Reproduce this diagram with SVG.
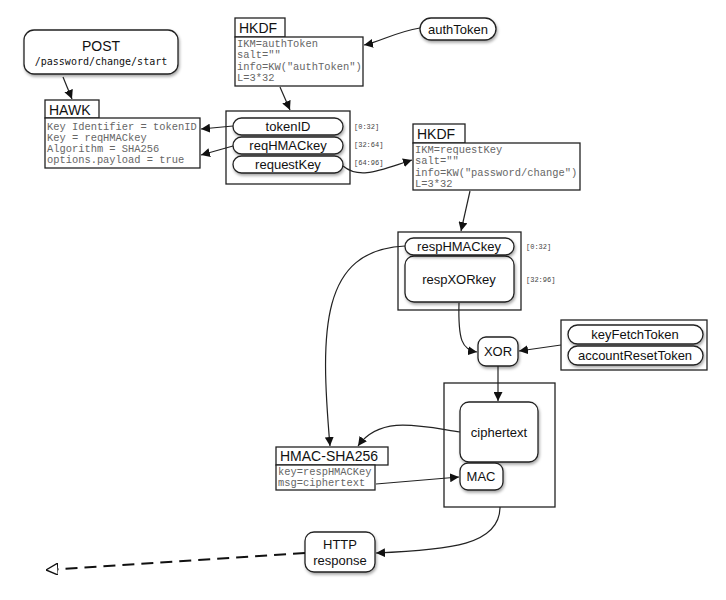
<svg xmlns="http://www.w3.org/2000/svg" width="726" height="600" viewBox="0 0 726 600">
<style>
.b{fill:#fff;stroke:#222;stroke-width:1.3}
.c{fill:none;stroke:#222;stroke-width:1.2}
.t{font-family:"Liberation Sans",Arial,sans-serif;font-size:13px;fill:#111;text-anchor:middle}
.h{font-family:"Liberation Sans",Arial,sans-serif;font-size:14px;fill:#111}
.m{font-family:"Liberation Mono","Courier New",monospace;font-size:10.4px;fill:#666}
.s{font-family:"Liberation Mono","Courier New",monospace;font-size:7px;fill:#444}
.e{fill:none;stroke:#111;stroke-width:2}
</style>
<defs>
<marker id="a" viewBox="0 0 10 10" refX="10" refY="5" markerWidth="9" markerHeight="9" markerUnits="userSpaceOnUse" orient="auto"><path d="M0,0L10,5L0,10z" fill="#111"/></marker>
<marker id="o" viewBox="0 0 10 10" refX="10" refY="5" markerWidth="12" markerHeight="12" markerUnits="userSpaceOnUse" orient="auto-start-reverse"><path d="M0,0L10,5L0,10z" fill="#fff" stroke="#111" stroke-width="1.2"/></marker>
<filter id="sh" x="-10%" y="-10%" width="130%" height="140%"><feDropShadow dx="1" dy="2" stdDeviation="1.5" flood-opacity="0.35"/></filter>
</defs>
<g id="post"><rect class="b" filter="url(#sh)" x="24" y="30" width="154" height="44" rx="10"/><text class="t" x="101" y="51" style="font-size:14px">POST</text><text class="t" x="101" y="65" style="font-family:'DejaVu Sans Mono',monospace;font-size:10px">/password/change/start</text></g>
<g id="hawk"><rect class="b" x="45" y="100" width="54" height="18"/><text class="h" x="49" y="115">HAWK</text><rect class="b" x="45" y="118" width="155" height="50"/><text class="m" x="47" y="130">Key Identifier = tokenID</text><text class="m" x="47" y="141">Key = reqHMACkey</text><text class="m" x="47" y="152">Algorithm = SHA256</text><text class="m" x="47" y="163">options.payload = true</text></g>
<g id="hkdf1"><rect class="b" x="235" y="18" width="50" height="19"/><text class="h" x="239" y="33">HKDF</text><rect class="b" x="235" y="37" width="128" height="49"/><text class="m" x="237" y="47">IKM=authToken</text><text class="m" x="237" y="58">salt=""</text><text class="m" x="237" y="70">info=KW("authToken")</text><text class="m" x="237" y="81">L=3*32</text></g>
<g id="authToken"><rect class="b" filter="url(#sh)" x="420" y="18" width="76" height="22" rx="11"/><text class="t" x="458" y="34">authToken</text></g>
<g id="keys1"><rect class="b" x="226" y="111" width="124" height="73"/><rect class="b" filter="url(#sh)" x="233" y="118" width="110" height="17" rx="8.5"/><text class="t" x="288" y="131">tokenID</text><rect class="b" filter="url(#sh)" x="233" y="137" width="110" height="17" rx="8.5"/><text class="t" x="288" y="150">reqHMACkey</text><rect class="b" filter="url(#sh)" x="233" y="156" width="110" height="17" rx="8.5"/><text class="t" x="288" y="169">requestKey</text><text class="s" x="354" y="129">[0:32]</text><text class="s" x="354" y="147">[32:64]</text><text class="s" x="354" y="165">[64:96]</text></g>
<g id="hkdf2"><rect class="b" x="413" y="124" width="52" height="19"/><text class="h" x="417" y="139">HKDF</text><rect class="b" x="413" y="143" width="167" height="47"/><text class="m" x="415" y="153">IKM=requestKey</text><text class="m" x="415" y="164">salt=""</text><text class="m" x="415" y="176">info=KW("password/change")</text><text class="m" x="415" y="187">L=3*32</text></g>
<g id="keys2"><rect class="b" x="398" y="232" width="123" height="78"/><rect class="b" filter="url(#sh)" x="405" y="256" width="109" height="46" rx="9"/><text class="t" x="459" y="284">respXORkey</text><rect class="b" filter="url(#sh)" x="405" y="238" width="109" height="17" rx="8.5"/><text class="t" x="459" y="251">respHMACkey</text><text class="s" x="526" y="249">[0:32]</text><text class="s" x="526" y="282">[32:96]</text></g>
<g id="xor"><rect class="b" filter="url(#sh)" x="478" y="337" width="40" height="29" rx="8"/><text class="t" x="498" y="356">XOR</text></g>
<g id="tokens"><rect class="b" x="561" y="320" width="146" height="50"/><rect class="b" filter="url(#sh)" x="568" y="325" width="135" height="19" rx="9.5"/><text class="t" x="635" y="339">keyFetchToken</text><rect class="b" filter="url(#sh)" x="568" y="346" width="135" height="19" rx="9.5"/><text class="t" x="635" y="360">accountResetToken</text></g>
<g id="out"><rect class="b" x="444" y="383" width="111" height="124"/><rect class="b" filter="url(#sh)" x="460" y="402" width="78" height="60" rx="9"/><text class="t" x="499" y="437">ciphertext</text><rect class="b" filter="url(#sh)" x="460" y="463" width="43" height="27" rx="8"/><text class="t" x="481" y="481">MAC</text></g>
<g id="hmac"><rect class="b" x="276" y="447" width="112" height="18"/><text class="h" x="280" y="461">HMAC-SHA256</text><rect class="b" x="276" y="465" width="99" height="25"/><text class="m" x="278" y="475">key=respHMACKey</text><text class="m" x="278" y="486">msg=ciphertext</text></g>
<g id="http"><rect class="b" filter="url(#sh)" x="305" y="532" width="70" height="40" rx="9"/><text class="t" x="340" y="549">HTTP</text><text class="t" x="340" y="565">response</text></g>
<g id="connectors">
<path class="c" d="M63,77 L72,99" marker-end="url(#a)"/>
<path class="c" d="M420,28 C395,32 380,42 364,45" marker-end="url(#a)"/>
<path class="c" d="M280,87 L290,110" marker-end="url(#a)"/>
<path class="c" d="M233,126 L201,129" marker-end="url(#a)"/>
<path class="c" d="M233,146 L201,155" marker-end="url(#a)"/>
<path class="c" d="M343,166 C360,180 380,170 412,160" marker-end="url(#a)"/>
<path class="c" d="M470,191 L461,231" marker-end="url(#a)"/>
<path class="c" d="M405,246 C320,250 320,330 330,446" marker-end="url(#a)"/>
<path class="c" d="M459,303 C458,340 462,350 477,352" marker-end="url(#a)"/>
<path class="c" d="M561,345 L519,351" marker-end="url(#a)"/>
<path class="c" d="M498,366 L498,401" marker-end="url(#a)"/>
<path class="c" d="M460,432 C420,426 380,415 358,446" marker-end="url(#a)"/>
<path class="c" d="M376,484 L459,477" marker-end="url(#a)"/>
<path class="c" d="M500,507 C500,545 450,550 376,553" marker-end="url(#a)"/>
<path class="e" d="M305,553 L46,570" stroke-dasharray="12,7" marker-end="url(#o)"/>
</g>
</svg>
